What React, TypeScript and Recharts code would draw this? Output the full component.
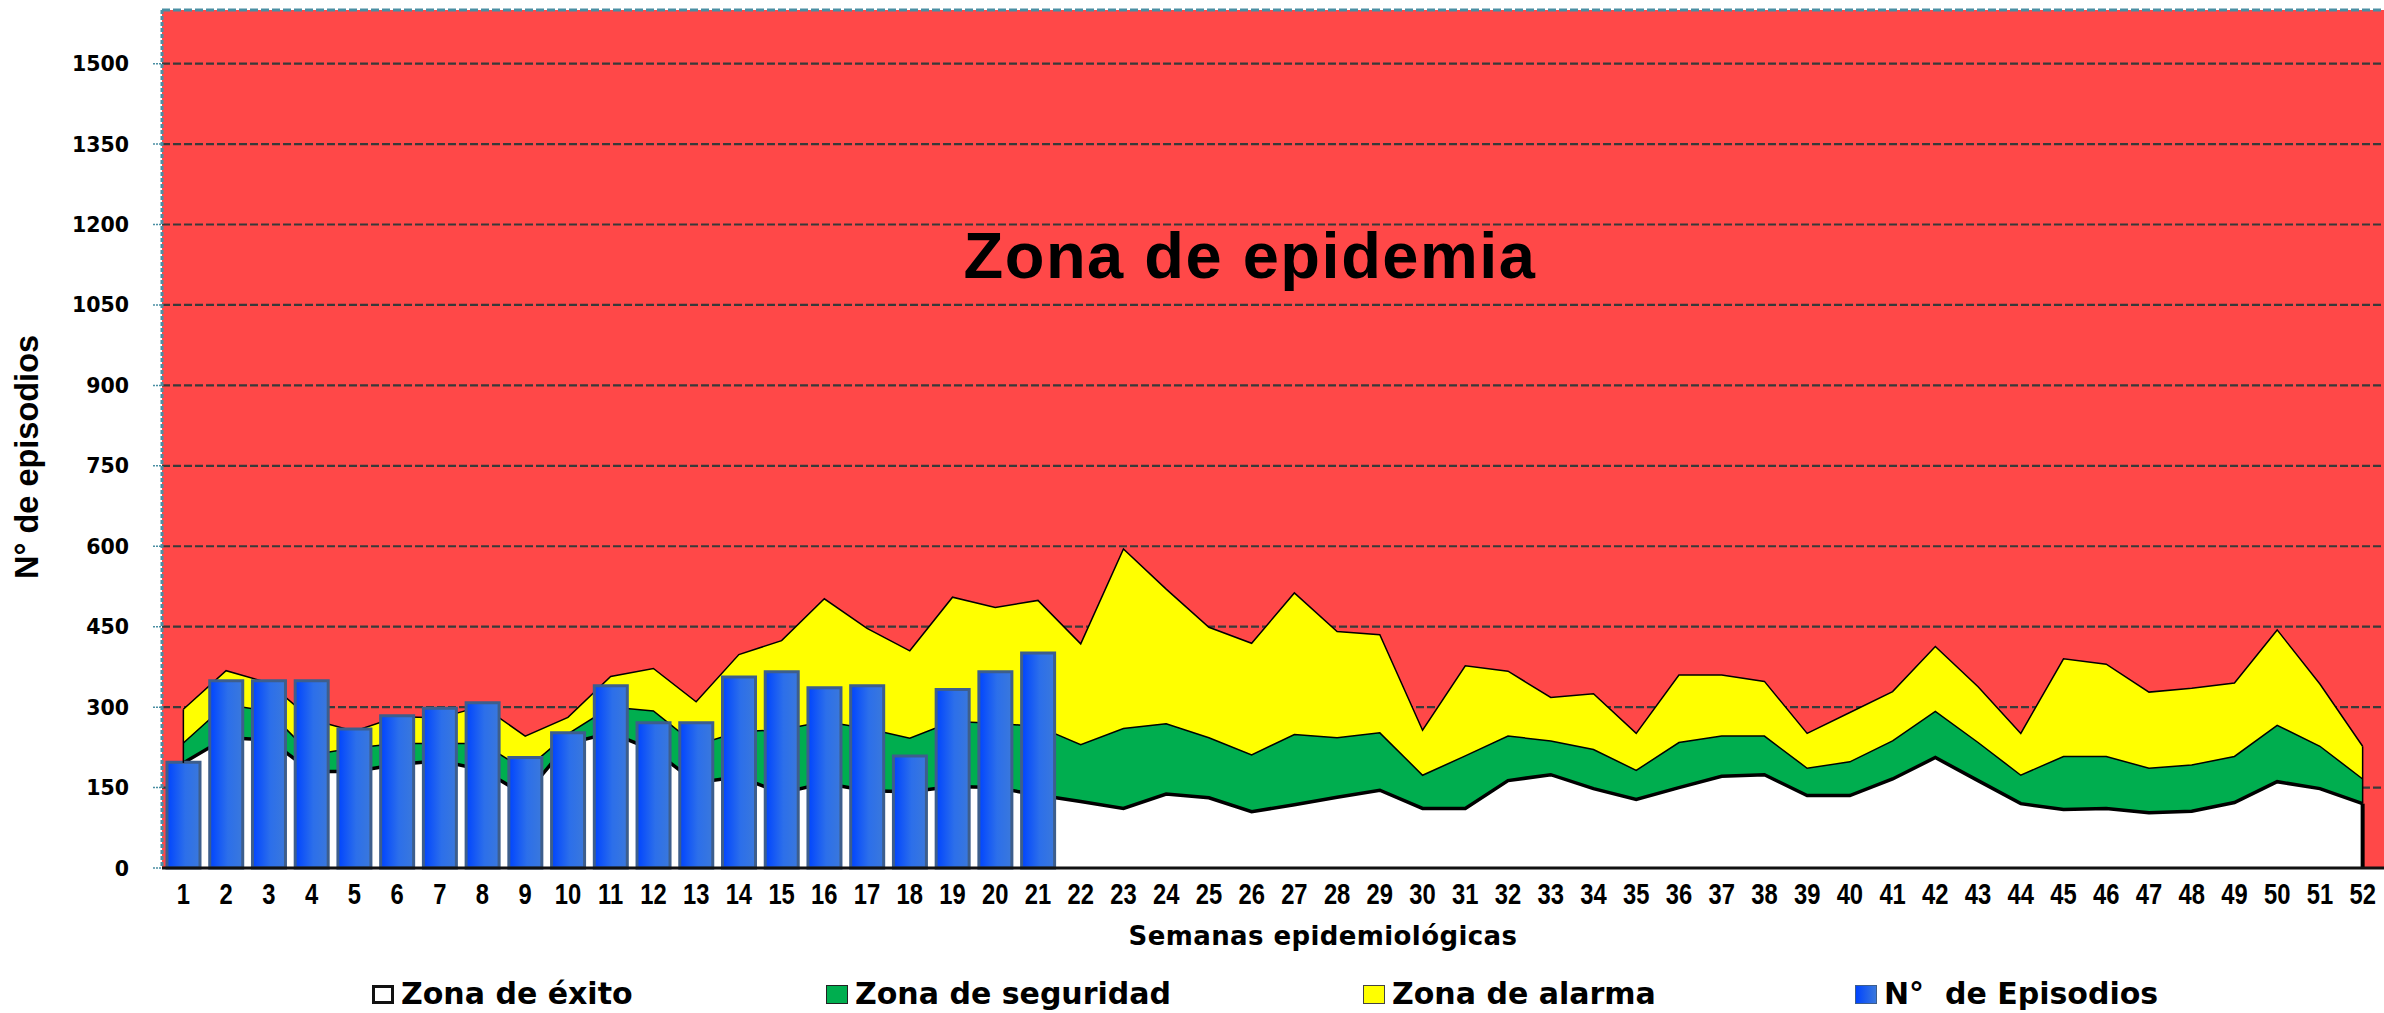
import React from "react";
import {
  ComposedChart,
  Area,
  Bar,
  XAxis,
  YAxis,
  CartesianGrid,
  ReferenceLine,
  Legend,
} from "recharts";

// semanas epidemiológicas
const weeks = [
  1, 2, 3, 4, 5, 6, 7, 8, 9, 10, 11, 12, 13, 14, 15, 16, 17, 18, 19, 20, 21, 22, 23, 24, 25, 26,
  27, 28, 29, 30, 31, 32, 33, 34, 35, 36, 37, 38, 39, 40, 41, 42, 43, 44, 45, 46, 47, 48, 49, 50,
  51, 52,
];

// límite superior de cada zona (canal endémico)
const alarma = [
  296, 368, 345, 277, 255, 282, 280, 302, 246, 281, 357, 372, 310, 398, 424, 502, 447, 405, 505,
  486, 499, 418, 595, 520, 449, 419, 513, 441, 435, 257, 377, 367, 318, 325, 251, 360, 360, 348,
  251, 290, 329, 413, 338, 251, 390, 380, 328, 335, 345, 444, 343, 227,
];
const seguridad = [
  233, 305, 292, 211, 224, 232, 232, 232, 183, 250, 300, 293, 229, 254, 258, 273, 260, 242, 273,
  270, 264, 230, 260, 269, 243, 211, 249, 243, 252, 173, 209, 246, 237, 221, 182, 234, 246, 246,
  186, 198, 237, 292, 234, 173, 208, 208, 186, 192, 208, 266, 227, 166,
];
const exito = [
  196, 243, 239, 180, 180, 193, 200, 183, 136, 232, 252, 220, 159, 170, 140, 158, 144, 142, 152,
  150, 136, 124, 111, 138, 131, 105, 118, 132, 145, 111, 111, 163, 174, 148, 128, 150, 171, 174,
  135, 135, 166, 206, 163, 120, 109, 111, 103, 106, 122, 161, 148, 120,
];

// N° de episodios (semanas 1-21)
const episodios = [
  197, 349, 349, 349, 259, 284, 298, 308, 206, 252, 340, 271, 271, 356, 366, 336, 340, 209, 333,
  366, 401,
];

const yTicks = [0, 150, 300, 450, 600, 750, 900, 1050, 1200, 1350, 1500];
const weekBounds = [...weeks.map((w) => w - 0.5), weeks[weeks.length - 1] + 0.5];

const legendLabels = ["Zona de éxito", "Zona de seguridad", "Zona de alarma", "N°  de Episodios"];

const data = weeks.map((w, i) => ({
  week: w,
  alarma: alarma[i],
  seguridad: seguridad[i],
  exito: exito[i],
  episodios: i < episodios.length ? episodios[i] : null,
}));

const RED = "#FF4848";
const YELLOW = "#FFFF00";
const GREEN = "#00AE4F";
const TEAL = "#4A8FA3";
const DEJAVU = "'DejaVu Sans', Verdana, sans-serif";
const ARIAL = "'Liberation Sans', Arial, sans-serif";

const XTick = (props: any) => {
  const { x, y, payload } = props;
  return (
    <text
      transform={`translate(${x},${y + 21}) scale(0.82,1)`}
      textAnchor="middle"
      fontFamily={ARIAL}
      fontWeight="bold"
      fontSize={29}
      fill="#000"
    >
      {payload.value}
    </text>
  );
};

const YTick = (props: any) => {
  const { x, y, payload } = props;
  return (
    <text x={x} y={y + 7.5} textAnchor="end" fontFamily={DEJAVU} fontWeight="bold" fontSize={20.5} fill="#000">
      {payload.value}
    </text>
  );
};

const YTitle = () => (
  <text
    transform="translate(38,457) rotate(-90)"
    textAnchor="middle"
    fontFamily={ARIAL}
    fontWeight="bold"
    fontSize={32.5}
    fill="#000"
  >
    N° de episodios
  </text>
);

const XTitle = () => (
  <text
    x={1323}
    y={945}
    textAnchor="middle"
    fontFamily={DEJAVU}
    fontWeight="bold"
    fontSize={26}
    letterSpacing={0.4}
    fill="#000"
  >
    Semanas epidemiológicas
  </text>
);

const EpidemiaTitle = () => (
  <text
    x={1250}
    y={278}
    textAnchor="middle"
    fontFamily={ARIAL}
    fontWeight="bold"
    fontSize={65}
    letterSpacing={1.5}
    fill="#000"
  >
    Zona de epidemia
  </text>
);

const legendLeft = [372, 826, 1363, 1855];
const markerStyles: React.CSSProperties[] = [
  { background: "#fff", border: "3px solid #111", width: 16, height: 13 },
  { background: GREEN, border: "1px solid #222", width: 20, height: 17 },
  { background: YELLOW, border: "1px solid #444", width: 20, height: 17 },
  {
    background: "linear-gradient(to right, #0044FF, #3A78DC)",
    border: "1px solid #3D5E8C",
    width: 20,
    height: 17,
  },
];

const renderLegend = () => (
  <div style={{ position: "relative", width: 2384, height: 1013 }}>
    {legendLabels.map((label, i) => (
      <div
        key={label}
        style={{
          position: "absolute",
          left: legendLeft[i],
          top: 979,
          height: 30,
          display: "flex",
          alignItems: "center",
          fontFamily: DEJAVU,
          fontWeight: "bold",
          fontSize: 30,
          lineHeight: "30px",
          whiteSpace: "pre",
          color: "#000",
        }}
      >
        <span style={{ display: "inline-block", marginRight: 7, ...markerStyles[i] }} />
        <span>{label}</span>
      </div>
    ))}
  </div>
);

const App = () => {
  const last = weeks.length - 1;
  return (
    <div style={{ position: "absolute", left: 0, top: 0, width: 2384, height: 1013, background: "#fff" }}>
      <ComposedChart
        width={2384}
        height={1013}
        data={data}
        margin={{ top: 10, right: 0, bottom: 104, left: 0 }}
      >
        <defs>
          <linearGradient id="barGrad" x1="0" y1="0" x2="1" y2="0">
            <stop offset="0%" stopColor="#0044FF" />
            <stop offset="55%" stopColor="#2C6FEA" />
            <stop offset="100%" stopColor="#3A78DC" />
          </linearGradient>
        </defs>
        <CartesianGrid
          xAxisId="weeks"
          vertical={false}
          fill={RED}
          fillOpacity={1}
          stroke="#3A3A3A"
          strokeWidth={2.2}
          strokeDasharray="8 3"
        />
        <XAxis
          xAxisId="bounds"
          type="number"
          domain={[0.5, 52.5]}
          allowDataOverflow
          ticks={weekBounds}
          interval={0}
          height={1}
          tick={false}
          tickSize={7}
          tickLine={{ stroke: "#6B6B6B", strokeWidth: 2 }}
          axisLine={{ stroke: "#111", strokeWidth: 3 }}
        />
        <XAxis
          xAxisId="weeks"
          dataKey="week"
          type="category"
          interval={0}
          height={40}
          axisLine={false}
          tickLine={false}
          tickSize={8}
          tickMargin={6}
          tick={<XTick />}
          label={<XTitle />}
        />
        <YAxis
          type="number"
          domain={[0, 1600]}
          ticks={yTicks}
          interval={0}
          width={162}
          tickSize={9}
          tickMargin={24}
          tickLine={{ stroke: TEAL, strokeWidth: 1.5, strokeDasharray: "2 1" }}
          axisLine={{ stroke: TEAL, strokeWidth: 3, strokeDasharray: "4 2" }}
          tick={<YTick />}
          label={<YTitle />}
        />
        <Area
          xAxisId="weeks"
          type="linear"
          dataKey="alarma"
          name="Zona de alarma"
          fill={YELLOW}
          fillOpacity={1}
          stroke="#000"
          strokeWidth={1.5}
          dot={false}
          activeDot={false}
          isAnimationActive={false}
        />
        <Area
          xAxisId="weeks"
          type="linear"
          dataKey="seguridad"
          name="Zona de seguridad"
          fill={GREEN}
          fillOpacity={1}
          stroke="#000"
          strokeWidth={1.5}
          dot={false}
          activeDot={false}
          isAnimationActive={false}
        />
        <Area
          xAxisId="weeks"
          type="linear"
          dataKey="exito"
          name="Zona de éxito"
          fill="#fff"
          fillOpacity={1}
          stroke="#000"
          strokeWidth={3.5}
          dot={false}
          activeDot={false}
          isAnimationActive={false}
        />
        <ReferenceLine
          xAxisId="weeks"
          segment={[
            { x: weeks[0], y: exito[0] },
            { x: weeks[0], y: alarma[0] },
          ]}
          stroke="#000"
          strokeWidth={1.5}
        />
        <ReferenceLine
          xAxisId="weeks"
          segment={[
            { x: weeks[last], y: exito[last] },
            { x: weeks[last], y: alarma[last] },
          ]}
          stroke="#000"
          strokeWidth={1.5}
        />
        <ReferenceLine
          xAxisId="weeks"
          segment={[
            { x: weeks[last], y: 0 },
            { x: weeks[last], y: exito[last] },
          ]}
          stroke="#000"
          strokeWidth={4}
        />
        <Bar
          xAxisId="weeks"
          dataKey="episodios"
          name="N° de Episodios"
          barSize={33}
          fill="url(#barGrad)"
          stroke="#3D5E8C"
          strokeWidth={3}
          isAnimationActive={false}
        />
        <ReferenceLine
          xAxisId="weeks"
          y={1600}
          stroke={TEAL}
          strokeWidth={3}
          strokeDasharray="8 3"
          label={<EpidemiaTitle />}
        />
        <Legend
          layout="horizontal"
          verticalAlign="middle"
          align="center"
          wrapperStyle={{ top: 0, left: 0, width: 2384, height: 1013, pointerEvents: "none" }}
          content={renderLegend}
        />
      </ComposedChart>
    </div>
  );
};

export default App;
